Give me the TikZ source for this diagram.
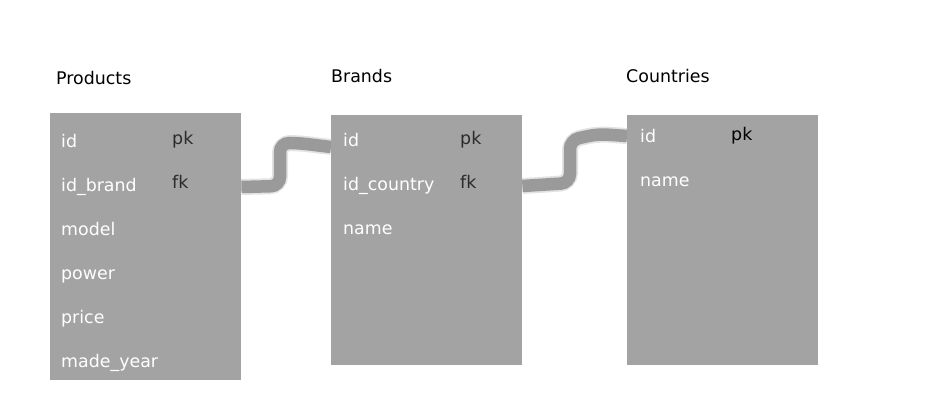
\documentclass[tikz,border=0pt]{standalone}
\usepackage{fontspec}
\setmainfont{DejaVu Sans}
\usetikzlibrary{positioning}

\definecolor{boxgray}{HTML}{A3A3A3}
\definecolor{linkgray}{HTML}{9A9A9A}
\definecolor{keygray}{HTML}{2B2B2B}

\tikzset{
  tablebox/.style={fill=boxgray, draw=none, anchor=north west, minimum width=191pt, inner sep=0pt},
  title/.style={anchor=base west, inner sep=0pt, text=black},
  field/.style={text width=110pt, align=left, inner sep=0pt, text height=12pt, text depth=4pt, text=white},
  key/.style={anchor=base west, inner sep=0pt, text=keygray},
  link/.style={draw=linkgray, line width=12.5pt, rounded corners=9pt},
  linkhalo/.style={draw=linkgray!60, line width=16pt, rounded corners=10pt, opacity=0.45}
}

\begin{document}
\begin{tikzpicture}[x=1pt, y=-1pt, node distance=44pt, font=\fontsize{17.4}{19}\selectfont]
		\useasboundingbox[fill=white] (0,0) rectangle (940,400);
		% tables
		\node (products) [tablebox, minimum height=267pt] at (50,113) {};
		\node (brands) [tablebox, minimum height=250pt] at (331,115) {};
		\node (countries) [tablebox, minimum height=250pt] at (627,115) {};
		\node [title] at (56,84) {Products};
		\node [title] at (331,82) {Brands};
		\node [title] at (626,82) {Countries};
		% Products
		\node (p-id) [field, anchor=base west] at (61,147) {id};
		\node (p-brand) [field, below of=p-id] {id\_brand};
		\node (p-model) [field, below of=p-brand] {model};
		\node (p-power) [field, below of=p-model] {power};
		\node (p-price) [field, below of=p-power] {price};
		\node (p-year) [field, below of=p-price] {made\_year};
		\node (p-pk) [key] at (172,144) {pk};
		\node (p-fk) [key] at (172,188) {fk};
		% Brands
		\node (b-id) [field, anchor=base west] at (343,146) {id};
		\node (b-country) [field, below of=b-id] {id\_country};
		\node (b-name) [field, below of=b-country] {name};
		\node (b-pk) [key] at (460,144) {pk};
		\node (b-fk) [key] at (460,188) {fk};
		% Countries
		\node (c-id) [field, anchor=base west] at (640,142) {id};
		\node (c-name) [field, below of=c-id] {name};
		\node (c-pk) [key, text=black] at (731,140) {pk};
		% links
		\path [linkhalo] (products.east |- p-brand) -- (280,186) -- (280,143) -- (298,143) -- ([yshift=-5pt]brands.west |- b-id);
		\path [link] (products.east |- p-brand) -- (280,186) -- (280,143) -- (298,143) -- ([yshift=-5pt]brands.west |- b-id);
		\path [linkhalo] (brands.east |- b-country) -- (570,183) -- (570,140) -- (598,134) -- ([yshift=2pt]countries.west |- c-id);
		\path [link] (brands.east |- b-country) -- (570,183) -- (570,140) -- (598,134) -- ([yshift=2pt]countries.west |- c-id);
	\end{tikzpicture}
\end{document}
